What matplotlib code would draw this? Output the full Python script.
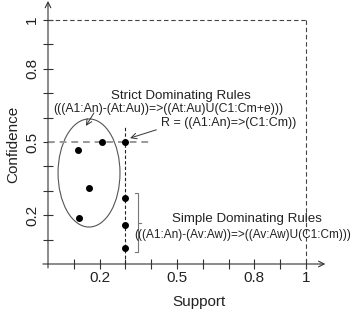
import numpy as np
import matplotlib.pyplot as plt
from matplotlib.patches import Ellipse

plt.rcParams['font.family'] = ['Liberation Sans', 'DejaVu Sans']

# rules inside the ellipse (strict dominating)
strict_x = [0.21, 0.117, 0.16, 0.12]
strict_y = [0.50, 0.467, 0.31, 0.19]

# the rule R and the simple dominating rules below it
r_point = (0.30, 0.50)
simple_x = [0.30, 0.30, 0.30]
simple_y = [0.27, 0.16, 0.067]

tick_vals = [0.1, 0.2, 0.3, 0.4, 0.5, 0.6, 0.7, 0.8, 0.9, 1.0]
tick_labels = ['', '0.2', '', '', '0.5', '', '', '0.8', '', '1']

strict_title = 'Strict Dominating Rules'
strict_formula = '(((A1:An)-(At:Au))=>((At:Au)U(C1:Cm+e)))'
r_text = 'R = ((A1:An)=>(C1:Cm))'
simple_title = 'Simple Dominating Rules'
simple_formula = '(((A1:An)-(Av:Aw))=>((Av:Aw)U(C1:Cm)))'

fig = plt.figure(figsize=(3.53, 3.2), dpi=100)

# axes placed so that data 0 sits at pixel (48, 264)
W, H = 353, 320
x0, kx = 48, 258
y0, ky = 264, 244
xlim = (-0.03, 1.1)
ylim = (-0.04, 1.08)
left = x0 + kx * xlim[0]
right = x0 + kx * xlim[1]
bottom = y0 - ky * ylim[0]
top = y0 - ky * ylim[1]
ax = fig.add_axes([left / W, (H - bottom) / H, (right - left) / W, (bottom - top) / H])
ax.set_xlim(*xlim)
ax.set_ylim(*ylim)

for side in ['top', 'right']:
    ax.spines[side].set_visible(False)
ax.spines['bottom'].set_position(('data', 0))
ax.spines['left'].set_position(('data', 0))
ax.spines['bottom'].set_visible(False)
ax.spines['left'].set_visible(False)

ink = '#333333'
# axis lines with open arrow heads
ax.annotate('', xy=(1.075, 0), xytext=(-0.02, 0),
            arrowprops=dict(arrowstyle='->', lw=0.8, color=ink, shrinkA=0, shrinkB=0))
ax.annotate('', xy=(0, 1.078), xytext=(0, -0.016),
            arrowprops=dict(arrowstyle='->', lw=0.8, color=ink, shrinkA=0, shrinkB=0))

ax.set_xticks(tick_vals)
ax.set_xticklabels(tick_labels)
ax.set_yticks(tick_vals)
ax.set_yticklabels(tick_labels)
ax.tick_params(direction='inout', length=7, width=0.8, color=ink, labelsize=11,
               labelcolor='#222222')
ax.tick_params(axis='x', pad=1.5)
ax.tick_params(axis='y', pad=3)
plt.setp(ax.get_yticklabels(), rotation=90, va='center')

# reference box at support = 1, confidence = 1
ax.plot([0, 1], [1, 1], ls=(0, (4, 2.5)), lw=0.8, color='#444444')
ax.plot([1, 1], [1, -0.015], ls=(0, (4, 2.5)), lw=0.8, color='#444444')

# thresholds of R
ax.plot([0, 0.4], [r_point[1], r_point[1]], ls=(0, (3.5, 2.5)), lw=1.4, color='#999999')
ax.plot([r_point[0], r_point[0]], [0, 0.56], ls=(0, (3, 2)), lw=0.8, color='#222222')

ax.scatter(strict_x, strict_y, s=16, color='black', zorder=3)
ax.scatter(simple_x, simple_y, s=16, color='black', zorder=3)
ax.scatter([r_point[0]], [r_point[1]], s=16, color='black', zorder=3)

ax.add_patch(Ellipse((0.159, 0.373), 0.24, 0.443, fill=False, lw=0.8, edgecolor='#555555'))

# bracket for the simple dominating rules
bx, btop, bbot, bmid = 0.35, 0.29, 0.05, 0.17
ax.plot([bx - 0.013, bx, bx, bx - 0.013], [btop, btop, bbot, bbot], lw=0.8, color='#777777')
ax.plot([bx, bx + 0.012], [bmid, bmid], lw=0.8, color='#777777')

ax.text(0.515, 0.69, strict_title, ha='center', va='center', fontsize=9.6, color='#222222')
ax.text(0.465, 0.635, strict_formula, ha='center', va='center', fontsize=8.8, color='#222222')
ax.text(0.437, 0.578, r_text, ha='left', va='center', fontsize=9, color='#222222')
ax.text(0.771, 0.184, simple_title, ha='center', va='center', fontsize=9.6, color='#222222')
ax.text(0.755, 0.119, simple_formula, ha='center', va='center', fontsize=8.5, color='#222222')

ax.annotate('', xy=(0.318, 0.516), xytext=(0.42, 0.55),
            arrowprops=dict(arrowstyle='->', lw=0.7, color=ink, shrinkA=0, shrinkB=0))
ax.annotate('', xy=(0.147, 0.566), xytext=(0.178, 0.619),
            arrowprops=dict(arrowstyle='->', lw=0.7, color=ink, shrinkA=0, shrinkB=0))

fig.text(199 / W, 1 - 302 / H, 'Support', ha='center', va='center', fontsize=11, color='#222222')
fig.text(13 / W, 1 - 144 / H, 'Confidence', ha='center', va='center', rotation=90,
         fontsize=11, color='#222222')

fig.savefig('out.png', dpi=100)
